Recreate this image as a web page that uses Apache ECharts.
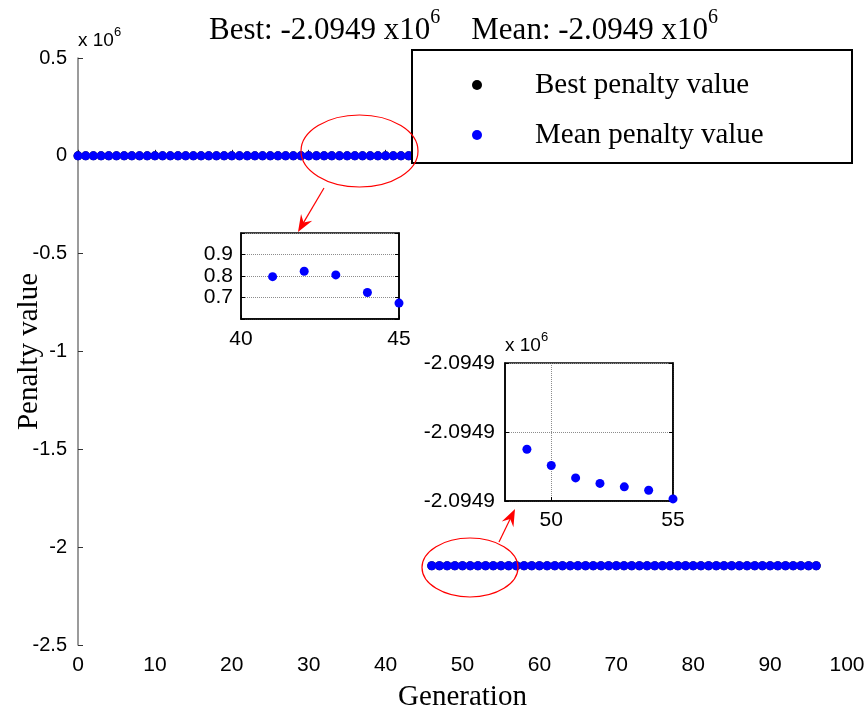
<!DOCTYPE html>
<html><head><meta charset="utf-8">
<script src="https://cdn.jsdelivr.net/npm/echarts@6/dist/echarts.min.js"></script>
<style>html,body{margin:0;padding:0;background:#fff}#c{width:867px;height:718px}</style>
</head><body><div id="c"></div>
<script>
// ---- data ----
const generations = [0,1,2,3,4,5,6,7,8,9,10,11,12,13,14,15,16,17,18,19,20,21,22,23,24,25,26,27,28,29,30,31,32,33,34,35,36,37,38,39,40,41,42,43,44,45,46,47,48,49,50,51,52,53,54,55,56,57,58,59,60,61,62,63,64,65,66,67,68,69,70,71,72,73,74,75,76,77,78,79,80,81,82,83,84,85,86,87,88,89,90,91,92,93,94,95,96];
const meanValues = [
  2.41,2.30,2.19,2.10,2.02,1.95,1.88,1.82,1.76,1.71,
  1.66,1.62,1.58,1.54,1.51,1.48,1.45,1.42,1.39,1.37,
  1.35,1.33,1.31,1.29,1.27,1.25,1.23,1.21,1.20,1.18,
  1.17,1.16,1.14,1.13,1.12,1.11,1.10,1.09,1.08,1.07,
  1.05,0.797,0.822,0.805,0.723,0.674,
  -2094905.0,-2094912.0,-2094919.0,-2094925.0,-2094929.7,-2094933.3,-2094934.9,-2094935.9,-2094936.9,-2094939.4,
  -2094939.8,-2094940.3,-2094940.9,-2094941.4,-2094941.8,-2094942.2,-2094942.5,-2094942.9,-2094943.2,-2094943.5,
  -2094943.8,-2094944.0,-2094944.3,-2094944.5,-2094944.7,-2094944.9,-2094945.1,-2094945.3,-2094945.4,-2094945.6,
  -2094945.7,-2094945.9,-2094946.0,-2094946.1,-2094946.3,-2094946.4,-2094946.5,-2094946.6,-2094946.7,-2094946.8,
  -2094946.9,-2094947.0,-2094947.1,-2094947.1,-2094947.2,-2094947.3,-2094947.3,-2094947.4,-2094947.5,-2094947.5,-2094947.6
];
// best coincides with mean at plot resolution (black markers hidden beneath blue)
const bestValues = meanValues.slice();
const seriesNames = ['Best penalty value', 'Mean penalty value'];
const mainX = {min: 0, max: 100, step: 10};
const mainY = {min: -2.5e6, max: 0.5e6, step: 0.5e6};
const inset1X = [40, 45];
const inset1Y = {min: 0.6, max: 1.0, step: 0.1};
const inset1YLabels = [0.7, 0.8, 0.9];
const inset2X = {min: 48.1, max: 55, ticks: [50, 55]};
const inset2Y = {min: -2094940, max: -2094900, step: 20};
const titleText = {best: '-2.0949', mean: '-2.0949', exp: '6'};

// ---- build ----
const pairs = (vals) => generations.map((g, i) => [g, vals[i]]);
const inBox = (arr, x0, x1, y0, y1) => arr.filter(p => p[0] >= x0 && p[0] <= x1 && p[1] >= y0 && p[1] <= y1);
const meanPts = pairs(meanValues), bestPts = pairs(bestValues);

const serif = 'Liberation Serif, Times New Roman, serif';
const sans = 'Liberation Sans, Arial, sans-serif';

function arrow(tip, tail) {
  const dx = tip[0] - tail[0], dy = tip[1] - tail[1];
  const L = Math.hypot(dx, dy), ux = dx / L, uy = dy / L, px = -uy, py = ux;
  const bl = 17, nl = 11, hw = 6.5;
  const bx = tip[0] - ux * bl, by = tip[1] - uy * bl;
  return [
    {type: 'line', shape: {x1: tail[0], y1: tail[1], x2: tip[0] - ux * 10, y2: tip[1] - uy * 10}, style: {stroke: '#ff0000', lineWidth: 1.2}, z: 20},
    {type: 'polygon', shape: {points: [tip, [bx + px * hw, by + py * hw], [tip[0] - ux * nl, tip[1] - uy * nl], [bx - px * hw, by - py * hw]]}, style: {fill: '#ff0000'}, z: 20}
  ];
}

const chart = echarts.init(document.getElementById('c'), null, {renderer: 'canvas'});
const blue = '#0000ff';
const dotted = {show: true, lineStyle: {color: '#8c8c8c', type: 'dotted', width: 1}};
const supRich = {
  a: {fontFamily: sans, fontSize: 19, fill: '#000', lineHeight: 24, verticalAlign: 'bottom'},
  s: {fontFamily: sans, fontSize: 13, fill: '#000', lineHeight: 14, verticalAlign: 'top'}
};

chart.setOption({
  animation: false,
  backgroundColor: '#fff',
  title: {
    text: '{a|Best: ' + titleText.best + ' x10}{s|' + titleText.exp + '}{a|    Mean: ' + titleText.mean + ' x10}{s|' + titleText.exp + '}',
    left: 204, top: 3,
    textStyle: {fontWeight: 'normal', rich: {
      a: {fontFamily: serif, fontSize: 31, fontWeight: 'normal', color: '#000', lineHeight: 38, verticalAlign: 'bottom'},
      s: {fontFamily: serif, fontSize: 20, fontWeight: 'normal', color: '#000', lineHeight: 20, verticalAlign: 'top'}
    }}
  },
  legend: {
    data: seriesNames, orient: 'vertical', left: 472, top: 70, padding: 0,
    icon: 'circle', itemWidth: 10, itemHeight: 10, itemGap: 20, z: 10,
    textStyle: {fontFamily: serif, fontSize: 29, color: '#000', lineHeight: 30, padding: [0, 0, 0, 48]}
  },
  grid: [
    {left: 78, top: 58, right: 20, bottom: 73, outerBoundsMode: 'none', containLabel: false},
    {left: 241, top: 233, width: 158, height: 86, show: true, backgroundColor: '#fff', borderColor: '#000', borderWidth: 1.5, z: 6, outerBoundsMode: 'none', containLabel: false},
    {left: 505, top: 363, width: 168, height: 138, show: true, backgroundColor: '#fff', borderColor: '#000', borderWidth: 1.5, z: 6, outerBoundsMode: 'none', containLabel: false}
  ],
  xAxis: [
    {gridIndex: 0, type: 'value', min: mainX.min, max: mainX.max, interval: mainX.step,
     name: 'Generation', nameLocation: 'middle', nameGap: 38, nameMoveOverlap: false,
     nameTextStyle: {fontFamily: serif, fontSize: 29, color: '#000'},
     axisLine: {lineStyle: {color: '#444', width: 1.5}}, axisTick: {inside: true, length: 6, lineStyle: {color: '#222'}},
     axisLabel: {fontFamily: sans, fontSize: 21, color: '#000', margin: 10}, splitLine: {show: false}},
    {gridIndex: 1, type: 'value', min: inset1X[0], max: inset1X[1], interval: inset1X[1] - inset1X[0],
     axisLine: {lineStyle: {color: '#000', width: 1.5}}, axisTick: {inside: true, length: 4, lineStyle: {color: '#000'}},
     axisLabel: {fontFamily: sans, fontSize: 21, color: '#000', margin: 10}, splitLine: {show: false}, z: 7},
    {gridIndex: 2, type: 'value', min: inset2X.min, max: inset2X.max,
     axisLine: {lineStyle: {color: '#000', width: 1.5}},
     axisTick: {inside: true, length: 4, lineStyle: {color: '#000'}, customValues: inset2X.ticks},
     axisLabel: {fontFamily: sans, fontSize: 21, color: '#000', margin: 9, customValues: inset2X.ticks},
     splitLine: Object.assign({customValues: inset2X.ticks}, dotted), z: 7}
  ],
  yAxis: [
    {gridIndex: 0, type: 'value', min: mainY.min, max: mainY.max, interval: mainY.step,
     name: 'Penalty value', nameLocation: 'middle', nameGap: 34, nameMoveOverlap: false,
     nameTextStyle: {fontFamily: serif, fontSize: 29, color: '#000'},
     axisLine: {show: true, lineStyle: {color: '#7a7a7a', width: 1.5}}, axisTick: {show: true, inside: true, length: 5, lineStyle: {color: '#333'}},
     axisLabel: {fontFamily: sans, fontSize: 20, color: '#000', margin: 11, formatter: v => String(+(v / 1e6).toFixed(1))},
     splitLine: {show: false}},
    {gridIndex: 1, type: 'value', min: inset1Y.min, max: inset1Y.max, interval: inset1Y.step,
     axisLine: {show: true, lineStyle: {color: '#000', width: 1.5}}, axisTick: {show: true, inside: true, length: 4, lineStyle: {color: '#000'}},
     axisLabel: {fontFamily: sans, fontSize: 21, color: '#000', margin: 8,
       formatter: v => inset1YLabels.some(t => Math.abs(t - v) < 1e-6) ? v.toFixed(1) : ''},
     splitLine: dotted, z: 7},
    {gridIndex: 1, type: 'value', position: 'right', min: inset1Y.min, max: inset1Y.max, interval: inset1Y.step,
     axisLine: {show: true, lineStyle: {color: '#000', width: 1.5}}, axisTick: {show: true, inside: true, length: 4, lineStyle: {color: '#000'}},
     axisLabel: {show: false}, splitLine: {show: false}, z: 7},
    {gridIndex: 2, type: 'value', min: inset2Y.min, max: inset2Y.max, interval: inset2Y.step,
     axisLine: {show: true, lineStyle: {color: '#000', width: 1.5}}, axisTick: {show: true, inside: true, length: 4, lineStyle: {color: '#000'}},
     axisLabel: {fontFamily: sans, fontSize: 21, color: '#000', margin: 10, formatter: v => (v / 1e6).toFixed(4)},
     splitLine: dotted, z: 7},
    {gridIndex: 2, type: 'value', position: 'right', min: inset2Y.min, max: inset2Y.max, interval: inset2Y.step,
     axisLine: {show: true, lineStyle: {color: '#000', width: 1.5}}, axisTick: {show: true, inside: true, length: 4, lineStyle: {color: '#000'}},
     axisLabel: {show: false}, splitLine: {show: false}, z: 7}
  ],
  series: [
    {name: seriesNames[0], type: 'scatter', xAxisIndex: 0, yAxisIndex: 0, data: bestPts, symbolSize: 9,
     itemStyle: {color: '#000', opacity: 1}, z: 2},
    {name: seriesNames[1], type: 'scatter', xAxisIndex: 0, yAxisIndex: 0, data: meanPts, symbolSize: 9,
     itemStyle: {color: blue, opacity: 1}, z: 3},
    {name: seriesNames[1], type: 'scatter', xAxisIndex: 1, yAxisIndex: 1,
     data: inBox(meanPts, inset1X[0], inset1X[1], inset1Y.min, inset1Y.max), symbolSize: 9,
     itemStyle: {color: blue, opacity: 1}, z: 8, clip: false},
    {name: seriesNames[1], type: 'scatter', xAxisIndex: 2, yAxisIndex: 3,
     data: inBox(meanPts, inset2X.min, inset2X.max, inset2Y.min, inset2Y.max), symbolSize: 9,
     itemStyle: {color: blue, opacity: 1}, z: 8, clip: false}
  ],
  graphic: [
    {type: 'rect', shape: {x: 412, y: 50, width: 440, height: 113}, style: {fill: '#fff', stroke: '#000', lineWidth: 2}, z: 5},
    {type: 'text', x: 78, y: 26, z: 10, style: {text: '{a|x 10}{s|6}', rich: supRich}},
    {type: 'text', x: 505, y: 331, z: 10, style: {text: '{a|x 10}{s|6}', rich: supRich}},
    {type: 'ellipse', shape: {cx: 359.5, cy: 151, rx: 58.5, ry: 36}, style: {fill: 'none', stroke: '#ff0000', lineWidth: 1.2}, z: 20},
    {type: 'ellipse', shape: {cx: 470, cy: 567.5, rx: 48, ry: 29.5}, style: {fill: 'none', stroke: '#ff0000', lineWidth: 1.2}, z: 20}
  ].concat(arrow([298, 232], [324, 188])).concat(arrow([515, 509], [499, 542]))
});
</script>
</body></html>
